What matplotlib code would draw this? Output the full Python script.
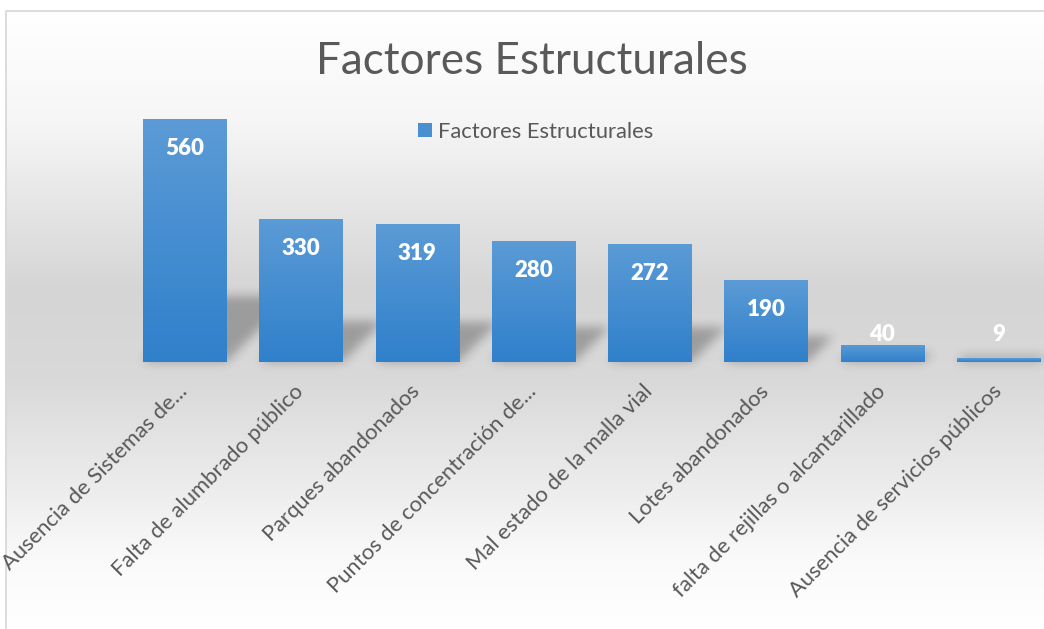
import numpy as np
import matplotlib
matplotlib.use('Agg')
import matplotlib.pyplot as plt
from matplotlib.path import Path
from matplotlib.patches import Rectangle
from matplotlib.colors import LinearSegmentedColormap
from matplotlib.lines import Line2D

categories = ["Ausencia de Sistemas de...", "Falta de alumbrado público",
              "Parques abandonados", "Puntos de concentración de...",
              "Mal estado de la malla vial", "Lotes abandonados",
              "falta de rejillas o alcantarillado", "Ausencia de servicios públicos"]
values = [560, 330, 319, 280, 272, 190, 40, 9]
series_name = "Factores Estructurales"
title = "Factores Estructurales"

W, H, DPI = 1044, 629, 100
plt.rcParams['font.family'] = ['Lato', 'DejaVu Sans']
TXT = '#595959'

fig = plt.figure(figsize=(W / DPI, H / DPI), dpi=DPI)
fig.patch.set_facecolor('white')

# ---- background (pixel coordinates) ----
bg = fig.add_axes([0, 0, 1, 1], zorder=0)
bg.set_xlim(0, W)
bg.set_ylim(0, H)
bg.axis('off')
ys_top = np.linspace(11, H, 400)
g = np.interp(ys_top, [11, 120, 290, 380, 560, 629], [1.0, 0.965, 0.835, 0.85, 0.98, 1.0])
grad = np.repeat(g[:, None], 2, axis=1)
bg.imshow(np.dstack([grad, grad, grad]), extent=(5, W, 0, H - 11), origin='upper',
          aspect='auto', interpolation='bilinear', zorder=0)
bg.add_line(Line2D([5.5, 5.5, W], [0, H - 10.5, H - 10.5], color='#d9d9d9', lw=1.3, zorder=1))

# ---- main axes ----
px_per_unit = 243 / 560
base_px = H - 362
ax_h = 600 * px_per_unit
left_px, slot = 184.5 - 116.3 / 2, 116.3
ax = fig.add_axes([left_px / W, base_px / H, 8 * slot / W, ax_h / H], zorder=2)
ax.patch.set_alpha(0)
x = np.arange(len(values))
bw = 0.714
bars = ax.bar(x, values, width=bw, color='#4a8fd0', edgecolor='none', zorder=2)
cmap = LinearSegmentedColormap.from_list('bb', ['#3080cb', '#5b9bd6'])
gv = np.linspace(0, 1, 100)[:, None]
for b in bars:
    im = ax.imshow(gv, extent=(b.get_x(), b.get_x() + b.get_width(), 0, b.get_height()),
                   origin='lower', aspect='auto', cmap=cmap, zorder=2.5, interpolation='bilinear')
    im.set_clip_path(b)
ax.set_xlim(-0.5, len(values) - 0.5)
ax.set_ylim(0, 600)
for s in ax.spines.values():
    s.set_visible(False)
ax.set_yticks([])
ax.set_xticks(x)
ax.set_xticklabels(categories, rotation=45, ha='right', va='center', rotation_mode='anchor',
                   fontsize=15.8, color=TXT)
ax.tick_params(axis='x', length=0, pad=19)

for xi, v in zip(x, values):
    ax.text(xi, max(v - 68, 64.5), str(v), ha='center', va='center', color='white',
            fontweight='heavy', fontsize=16, zorder=4)

# ---- perspective shadows ----
yy, xx = np.mgrid[0:H, 0:W]
pts = np.column_stack([xx.ravel() + 0.5, yy.ravel() + 0.5])
mask = np.zeros(H * W)
for b in bars:
    (x0p, y0p) = ax.transData.transform((b.get_x(), 0))
    (x1p, y1p) = ax.transData.transform((b.get_x() + b.get_width(), b.get_height()))
    hpx = y1p - y0p
    s = 0.25 * hpx + 5
    poly = Path([(x0p, y0p), (x1p, y0p), (x1p + s, y0p + s), (x0p + s, y0p + s), (x0p, y0p)])
    mask = np.maximum(mask, poly.contains_points(pts).astype(float))
mask = mask.reshape(H, W)
sig = 5.0
k = np.exp(-0.5 * (np.arange(-15, 16) / sig) ** 2)
k /= k.sum()
pad = 15
m = np.pad(mask, pad)
out = np.zeros_like(m)
for i, kv in enumerate(k):
    out += kv * np.roll(m, i - pad, axis=0)
m2 = np.zeros_like(out)
for i, kv in enumerate(k):
    m2 += kv * np.roll(out, i - pad, axis=1)
blur = m2[pad:-pad, pad:-pad]
rgba = np.zeros((H, W, 4))
rgba[..., 3] = 0.27 * blur
bg.imshow(rgba, extent=(0, W, 0, H), origin='lower', aspect='auto', zorder=0.5,
          interpolation='nearest')
bg.set_xlim(0, W)
bg.set_ylim(0, H)

# ---- title & legend ----
fig.text(532 / W, 1 - 61 / H, title, ha='center', va='center', fontsize=31.7, color=TXT)
fig.legend(handles=[Rectangle((0, 0), 1, 1, facecolor='#4a8fd0', edgecolor='none')],
           labels=[series_name], loc='center', bbox_to_anchor=(536 / W, 1 - 132 / H),
           frameon=False, fontsize=15.8, handlelength=0.62, handleheight=0.62,
           handletextpad=0.3, labelcolor=TXT)

fig.savefig('out.png', dpi=DPI)
